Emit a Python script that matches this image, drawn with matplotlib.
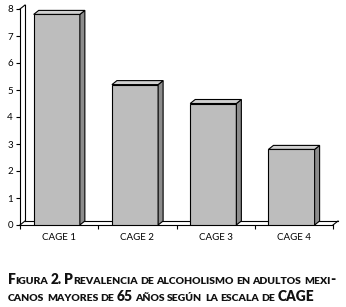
import numpy as np
import matplotlib
matplotlib.use("Agg")
import matplotlib.pyplot as plt
from matplotlib.patches import Polygon

# ---- data ----
categories = ["CAGE 1", "CAGE 2", "CAGE 3", "CAGE 4"]
values = [7.8, 5.2, 4.5, 2.8]
yticks = [0, 1, 2, 3, 4, 5, 6, 7, 8]
title_lines = ["Figura 2. Prevalencia de alcoholismo en adultos mexi-",
               "canos mayores de 65 años según la escala de CAGE"]

W, H = 346, 307
fig = plt.figure(figsize=(W / 100, H / 100), dpi=100)
FONT = "Lato"
TFONT = "Lato"

# axes placement in pixels (front plane)
x0, x1 = 20, 333
y0, y1 = 225, 9
ax = fig.add_axes([x0 / W, 1 - y0 / H, (x1 - x0) / W, (y0 - y1) / H])
ax.set_xlim(-0.5, 3.5)
ax.set_ylim(0, 8)
ax.patch.set_alpha(0)

pxx = (x1 - x0) / 4.0
pxy = (y0 - y1) / 8.0
DX, DY = 5 / pxx, 4 / pxy  # depth offsets in data units

front_c = "#bdbdbd"
top_c = "#d0d0d0"
side_c = "#8c8c8c"
lw = 0.8

# walls / floor
wall = dict(color="black", lw=lw, clip_on=False, zorder=1)
ax.plot([-0.5 + DX, 3.5 + DX], [DY, DY], **wall)          # floor back edge
ax.plot([3.5, 3.5 + DX], [0, DY], **wall)                  # floor right slant
ax.plot([-0.5, -0.5 + DX], [0, DY], **wall)                # floor left slant
ax.plot([-0.5 + DX, -0.5 + DX], [DY, 8 + DY], **wall)      # wall back line
ax.plot([-0.5, -0.5 + DX], [8, 8 + DY], **wall)            # wall top slant

xs = np.arange(len(categories)) - 0.03
width = 0.59
bars = ax.bar(xs, values, width=width, color=front_c, edgecolor="black",
              linewidth=lw, zorder=3)
for b, v in zip(bars, values):
    l = b.get_x()
    r = l + b.get_width()
    top = Polygon([(l, v), (l + DX, v + DY), (r + DX, v + DY), (r, v)],
                  closed=True, facecolor=top_c, edgecolor="black",
                  linewidth=lw, zorder=3, clip_on=False)
    side = Polygon([(r, 0), (r, v), (r + DX, v + DY), (r + DX, DY)],
                   closed=True, facecolor=side_c, edgecolor="black",
                   linewidth=lw, zorder=3, clip_on=False)
    ax.add_patch(side)
    ax.add_patch(top)

for s in ["top", "right"]:
    ax.spines[s].set_visible(False)
for s in ["left", "bottom"]:
    ax.spines[s].set_linewidth(lw)
    ax.spines[s].set_zorder(2)

ax.set_yticks(yticks)
ax.set_yticklabels([str(t) for t in yticks], fontfamily=FONT, fontsize=7)
ax.tick_params(axis="y", direction="out", length=3, width=lw, pad=2)

ax.set_xticks(np.arange(len(categories)))
ax.set_xticklabels(categories, fontfamily=FONT, fontsize=7)
ax.set_xticks(np.arange(-0.5, 4.0, 1.0), minor=True)
ax.tick_params(axis="x", which="major", length=0, pad=6)
ax.tick_params(axis="x", which="minor", direction="out", length=3, width=lw)

# ---- small caps title ----
fig.canvas.draw()
renderer = fig.canvas.get_renderer()
TW = "heavy"


def runs_of(text):
    out = []
    for ch in text:
        kind = "sp" if ch == " " else ("small" if ch.islower() else "big")
        if out and out[-1][0] == kind:
            out[-1][1] += ch
        else:
            out.append([kind, ch])
    return out


def measure(s, size):
    t = fig.text(0, 0, s, fontsize=size, fontfamily=TFONT, fontweight=TW)
    w = t.get_window_extent(renderer).width
    t.remove()
    return w


def line_width(text, big, small):
    sp = measure("X X", small) - measure("XX", small)
    tot = 0
    for kind, s in runs_of(text):
        if kind == "sp":
            tot += sp * len(s)
        else:
            tot += measure(s.upper(), big if kind == "big" else small)
    return tot


def draw_line(text, xpx, ypx, big, small):
    sp = measure("X X", small) - measure("XX", small)
    x = xpx
    for kind, s in runs_of(text):
        if kind == "sp":
            x += sp * len(s)
            continue
        size = big if kind == "big" else small
        t = fig.text(x / W, 1 - ypx / H, s.upper(), fontsize=size,
                     fontfamily=TFONT, fontweight=TW, va="baseline",
                     ha="left", color="#111111")
        x += t.get_window_extent(renderer).width


big, small = 9.8, 7.4
nat = line_width(title_lines[0], big, small)
scale = 328.0 / nat
big *= scale
small *= scale
draw_line(title_lines[0], 8, 284, big, small)
draw_line(title_lines[1], 8, 301, big, small)

fig.savefig("out.png", dpi=100)
